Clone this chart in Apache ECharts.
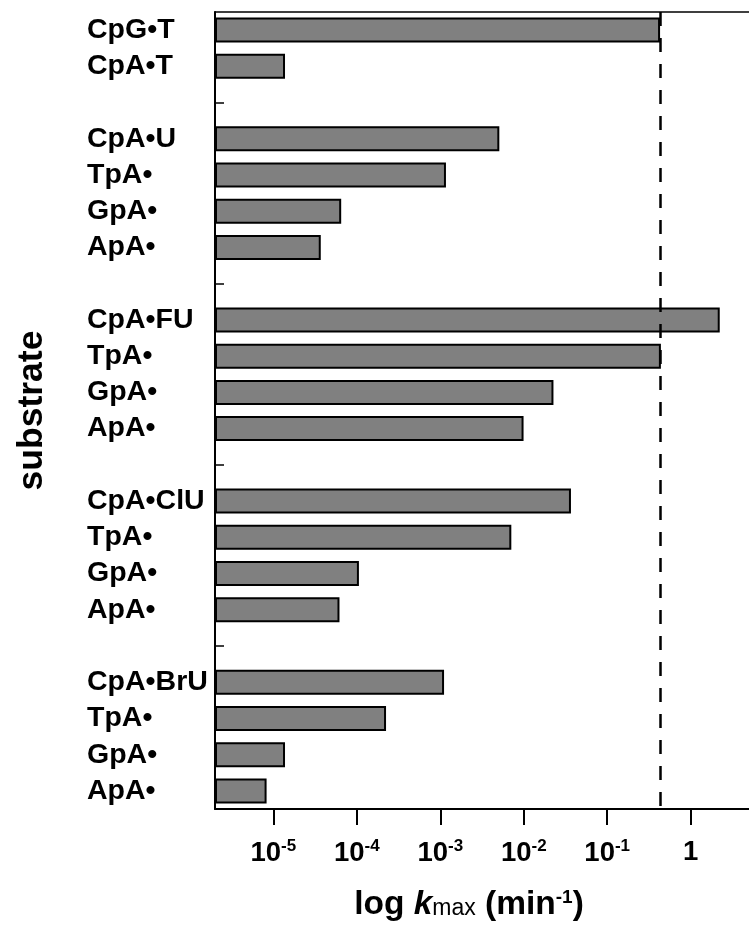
<!DOCTYPE html>
<html><head><meta charset="utf-8">
<script src="https://cdn.jsdelivr.net/npm/echarts@6/dist/echarts.min.js"></script>
<style>html,body{margin:0;padding:0;background:#fff}#c{width:749px;height:927px}</style>
</head><body><div id="c"></div>
<script>
// categories top -> bottom ('' = spacer row with a tick)
const categories = ['CpG•T','CpA•T','',
  'CpA•U','TpA•','GpA•','ApA•','',
  'CpA•FU','TpA•','GpA•','ApA•','',
  'CpA•ClU','TpA•','GpA•','ApA•','',
  'CpA•BrU','TpA•','GpA•','ApA•'];
// kmax (min^-1)
const kmax = [0.43, 1.38e-5, null,
  5.1e-3, 1.17e-3, 6.5e-5, 3.7e-5, null,
  2.23, 0.44, 0.0227, 9.95e-3, null,
  0.0368, 7.1e-3, 1.06e-4, 6.2e-5, null,
  1.11e-3, 2.24e-4, 1.38e-5, 8.3e-6];
const xTicks = [1e-5, 1e-4, 1e-3, 1e-2, 1e-1, 1];
const xMin = 2e-6, xMax = 5;
const refLine = 0.43;

const FONT = 'Liberation Sans, Arial, sans-serif';
const chart = echarts.init(document.getElementById('c'), null, {renderer: 'canvas'});
chart.setOption({
  animation: false,
  backgroundColor: '#fff',
  grid: {left: 215, right: 0, top: 12, bottom: 116, containLabel: false},
  xAxis: [{
    type: 'log', logBase: 10, min: xMin, max: xMax, startValue: xMin,
    axisLine: {show: true, onZero: false, lineStyle: {color: '#000', width: 2}},
    axisTick: {show: true, customValues: xTicks, length: 16, lineStyle: {color: '#000', width: 2}},
    axisLabel: {
      show: true, customValues: xTicks, margin: 29, color: '#000', fontFamily: FONT,
      formatter: function (v) {
        const e = Math.round(Math.log10(v));
        return e === 0 ? '{b|1}' : '{b|10}{s|' + e + '}';
      },
      rich: {
        b: {fontSize: 27.5, fontWeight: 'bold', fontFamily: FONT, color: '#000'},
        s: {fontSize: 17, fontWeight: 'bold', fontFamily: FONT, color: '#000', padding: [0, 0, 13, 0]}
      }
    },
    splitLine: {show: false}, minorTick: {show: false},
    name: '{n|log }{k|k}{m|max}{n| (min}{s|-1}{n|)}',
    nameLocation: 'middle', nameGap: 79,
    nameTextStyle: {
      padding: [0, 26, 0, 0],
      rich: {
        n: {fontSize: 33.5, fontWeight: 'bold', fontFamily: FONT, color: '#000'},
        k: {fontSize: 33.5, fontWeight: 'bold', fontStyle: 'italic', fontFamily: FONT, color: '#000'},
        m: {fontSize: 23, fontFamily: FONT, color: '#000', padding: [7, 0, 0, 0]},
        s: {fontSize: 19, fontWeight: 'bold', fontFamily: FONT, color: '#000', padding: [0, 0, 15, 0]}
      }
    }
  }, {
    type: 'log', logBase: 10, min: xMin, max: xMax, position: 'top',
    axisLine: {show: true, onZero: false, lineStyle: {color: '#000', width: 1.5}},
    axisTick: {show: false}, axisLabel: {show: false}, splitLine: {show: false}
  }],
  yAxis: {
    type: 'category', data: categories, inverse: true, boundaryGap: true,
    axisLine: {show: true, lineStyle: {color: '#000', width: 2}},
    axisTick: {
      show: true, inside: true, length: 9, alignWithLabel: true,
      interval: function (i, v) { return v === ''; },
      lineStyle: {color: '#000', width: 1.5}
    },
    axisLabel: {
      interval: 0, align: 'left', margin: 128, color: '#000',
      fontSize: 28.5, fontWeight: 'bold', fontFamily: FONT
    },
    splitLine: {show: false},
    name: 'substrate', nameLocation: 'middle', nameGap: 165, nameRotate: 90,
    nameTextStyle: {fontSize: 35.5, fontWeight: 'bold', fontFamily: FONT, color: '#000'}
  },
  series: [{
    type: 'bar', xAxisIndex: 0, data: kmax, barWidth: 25,
    itemStyle: {color: '#808080', borderColor: '#000', borderWidth: 2},
    markLine: {
      silent: true, symbol: 'none', label: {show: false},
      lineStyle: {color: '#000', width: 2.5, type: [14, 12]},
      data: [{xAxis: refLine}]
    }
  }]
});
</script></body></html>
